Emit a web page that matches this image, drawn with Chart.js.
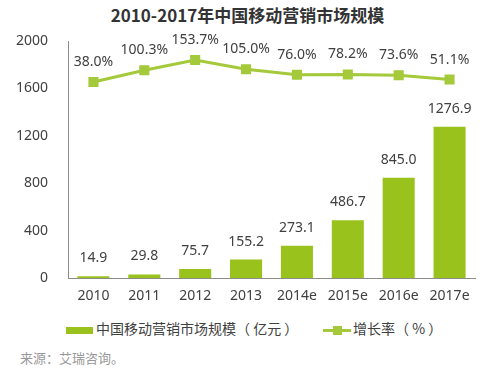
<!DOCTYPE html>
<html>
<head>
<meta charset="utf-8">
<script src="https://cdn.jsdelivr.net/npm/chart.js@4"></script>
<style>
    body { margin: 0; background: #fff; font-family: "Noto Sans CJK SC", sans-serif; }
    #wrap { position: relative; width: 489px; height: 377px; overflow: hidden; }
    #title { position: absolute; top: 2px; left: 0; width: 495px; text-align: center; font-size: 17px; font-weight: bold; color: #333; }
    #chart-box { position: absolute; top: 0; left: 0; width: 489px; height: 310px; }
    .legend { position: absolute; top: 318px; font-size: 14px; color: #404040; white-space: nowrap; }
    .swatch-bar { display: inline-block; width: 27px; height: 7px; background: #99c31c; vertical-align: middle; margin-right: 3px; }
    .swatch-line { display: inline-block; position: relative; width: 28px; height: 3px; background: #a4c93a; vertical-align: middle; margin-right: 2px; }
    .swatch-line span { position: absolute; left: 10px; top: -3px; width: 9px; height: 9px; background: #a4c93a; }
    #source { position: absolute; top: 348px; left: 20px; font-size: 13px; color: #999; }
</style>
</head>
<body>
<div id="wrap">
    <div id="title">2010-2017年中国移动营销市场规模</div>
    <div id="chart-box"><canvas id="myChart"></canvas></div>
    <div class="legend" style="left:66px"><span class="swatch-bar"></span>中国移动营销市场规模（ 亿元 ）</div>
    <div class="legend" style="left:323px"><span class="swatch-line"><span></span></span>增长率（ % ）</div>
    <div id="source">来源：艾瑞咨询。</div>
</div>
<script>
const years = ['2010', '2011', '2012', '2013', '2014e', '2015e', '2016e', '2017e']
const marketSize = [14.9, 29.8, 75.7, 155.2, 273.1, 486.7, 845.0, 1276.9]
const growthRate = [38.0, 100.3, 153.7, 105.0, 76.0, 78.2, 73.6, 51.1]
const yTicks = [0, 400, 800, 1200, 1600, 2000]

const valueLabels = {
    id: 'valueLabels',
    afterDatasetsDraw: function(chart) {
        const ctx = chart.ctx
        ctx.save()
        ctx.fillStyle = '#404040'
        ctx.font = '14px "Noto Sans", sans-serif'
        ctx.textAlign = 'center'
        ctx.textBaseline = 'middle'
        chart.getDatasetMeta(1).data.forEach(function(bar, i) {
            ctx.fillText(marketSize[i].toFixed(1), bar.x, bar.y - 18)
        })
        chart.getDatasetMeta(0).data.forEach(function(pt, i) {
            ctx.fillText(growthRate[i].toFixed(1) + '%', pt.x, pt.y - 20)
        })
        ctx.restore()
    }
}

const ctx = document.getElementById('myChart').getContext('2d')
new Chart(ctx, {
    data: {
        labels: years,
        datasets: [{
            type: 'line',
            label: '增长率（%）',
            data: growthRate,
            yAxisID: 'y2',
            borderColor: '#a4c93a',
            backgroundColor: '#a4c93a',
            borderWidth: 3,
            pointStyle: 'rect',
            pointRadius: 5,
            tension: 0
        }, {
            type: 'bar',
            label: '中国移动营销市场规模（亿元）',
            data: marketSize,
            yAxisID: 'y',
            backgroundColor: '#99c31c',
            barPercentage: 0.63,
            categoryPercentage: 1
        }]
    },
    options: {
        responsive: true,
        maintainAspectRatio: false,
        animation: false,
        layout: { padding: { top: 41, right: 14, left: 0, bottom: 0 } },
        plugins: { legend: { display: false }, tooltip: { enabled: false } },
        scales: {
            x: {
                grid: { display: false, drawTicks: false },
                border: { color: '#8c8c8c' },
                ticks: { color: '#404040', font: { size: 14, family: '"Noto Sans", sans-serif' }, padding: 10, maxRotation: 0 },
                afterFit: function(s) { s.height = 32 }
            },
            y: {
                min: 0,
                max: 2000,
                grid: { display: false, drawTicks: false },
                border: { color: '#8c8c8c' },
                afterBuildTicks: function(s) { s.ticks = yTicks.map(function(v) { return { value: v } }) },
                ticks: {
                    color: '#404040',
                    font: { size: 14, family: '"Noto Sans", sans-serif' },
                    padding: 20,
                    callback: function(v) { return String(v) }
                },
                afterFit: function(s) { s.width = 68 }
            },
            y2: {
                display: false,
                min: -993,
                max: 254
            }
        }
    },
    plugins: [valueLabels]
})
</script>
</body>
</html>
